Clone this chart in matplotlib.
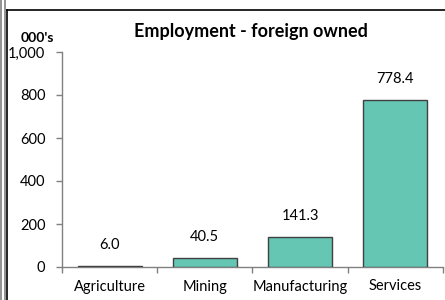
import matplotlib
matplotlib.use('Agg')
import matplotlib.pyplot as plt
from matplotlib.lines import Line2D

categories = ['Agriculture', 'Mining', 'Manufacturing', 'Services']
values = [6.0, 40.5, 141.3, 778.4]
yticks = [0, 200, 400, 600, 800, 1000]

plt.rcParams['font.family'] = ['Lato', 'DejaVu Sans']

W, H = 445, 300
fig = plt.figure(figsize=(W / 100, H / 100), dpi=100)
ax = fig.add_axes([62 / W, 1 - 267 / H, (443 - 62) / W, (267 - 52) / H])

x = range(len(categories))
ax.bar(x, values, width=0.67, color='#66c6b4', edgecolor='#404040', linewidth=1.0, zorder=3)
for xi, v in zip(x, values):
    ax.annotate(f'{v:.1f}', (xi, v), xytext=(0, 10), textcoords='offset points',
                ha='center', va='bottom', fontsize=10.5, color='black')

ax.set_xlim(-0.5, len(categories) - 0.5)
ax.set_ylim(0, 1000)
ax.set_yticks(yticks)
ax.set_yticklabels([f'{t:,}' for t in yticks])
ax.set_xticks(x)
ax.set_xticklabels(categories)
ax.set_xticks([i - 0.5 for i in range(len(categories) + 1)], minor=True)
ax.tick_params(axis='x', which='major', length=0, pad=9, labelsize=10.5)
ax.tick_params(axis='x', which='minor', length=4, color='#808080', width=1)
ax.tick_params(axis='y', length=4, color='#808080', width=1, pad=8, labelsize=10.5)

for s in ['top', 'right']:
    ax.spines[s].set_visible(False)
for s in ['left', 'bottom']:
    ax.spines[s].set_color('#808080')
    ax.spines[s].set_linewidth(1)

fig.text(251 / W, 1 - 32 / H, 'Employment - foreign owned', ha='center', va='center',
         fontsize=13, fontweight='bold')
fig.text(37 / W, 1 - 38 / H, "000's", ha='center', va='center', fontsize=10, fontweight='bold')

# frame lines
fig.add_artist(Line2D([1 / W, 1 / W], [0, 1], color='#808080', lw=1.2, transform=fig.transFigure))
fig.add_artist(Line2D([4.5 / W, 4.5 / W], [0, 1], color='#808080', lw=1.2, transform=fig.transFigure))
fig.add_artist(Line2D([7 / W, 7 / W], [0, 1 - 10 / H], color='black', lw=1.2, transform=fig.transFigure))
fig.add_artist(Line2D([7 / W, 1], [1 - 10 / H, 1 - 10 / H], color='black', lw=1.2, transform=fig.transFigure))

fig.savefig('out.png', dpi=100)
